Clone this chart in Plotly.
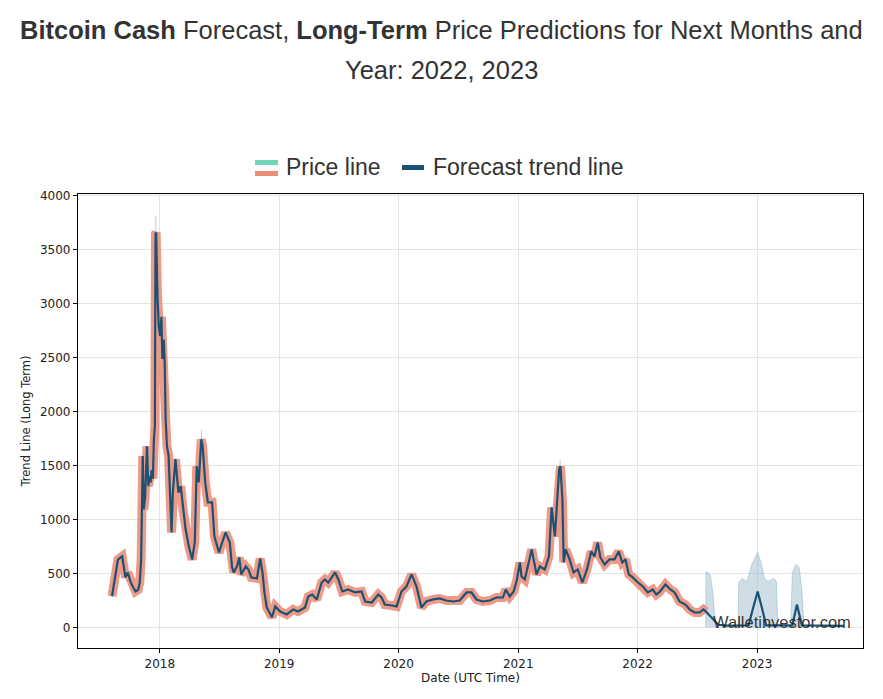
import plotly.graph_objects as go

# ---------- DATA ----------
price_dates = [
    "2017-08-08", "2017-08-18", "2017-08-26", "2017-09-08", "2017-09-14", "2017-09-18",
    "2017-09-25", "2017-10-04", "2017-10-12", "2017-10-19", "2017-10-27", "2017-11-01",
    "2017-11-05", "2017-11-10", "2017-11-13", "2017-11-17", "2017-11-23", "2017-11-27",
    "2017-11-30", "2017-12-04", "2017-12-07", "2017-12-11", "2017-12-14", "2017-12-17",
    "2017-12-19", "2017-12-21", "2017-12-25", "2017-12-29", "2018-01-02", "2018-01-06",
    "2018-01-09", "2018-01-13", "2018-01-16", "2018-01-19", "2018-01-23", "2018-01-28",
    "2018-02-06", "2018-02-10", "2018-02-18", "2018-02-27", "2018-03-06", "2018-03-13",
    "2018-03-21", "2018-03-31", "2018-04-10", "2018-04-18", "2018-04-24", "2018-04-30",
    "2018-05-08", "2018-05-12", "2018-05-20", "2018-05-28", "2018-06-10", "2018-06-17",
    "2018-07-01", "2018-07-11", "2018-07-21", "2018-08-03", "2018-08-10", "2018-08-15",
    "2018-08-25", "2018-09-01", "2018-09-07", "2018-09-21", "2018-09-29", "2018-10-08",
    "2018-10-25", "2018-11-04", "2018-11-11", "2018-11-17", "2018-11-24", "2018-12-10",
    "2018-12-20", "2019-01-04", "2019-01-24", "2019-02-13", "2019-02-28", "2019-03-21",
    "2019-03-31", "2019-04-12", "2019-04-26", "2019-05-11", "2019-05-21", "2019-05-31",
    "2019-06-21", "2019-07-01", "2019-07-13", "2019-07-31", "2019-08-21", "2019-09-10",
    "2019-09-21", "2019-10-11", "2019-10-31", "2019-11-10", "2019-11-20", "2019-12-11",
    "2019-12-26", "2020-01-10", "2020-01-25", "2020-02-10", "2020-02-25", "2020-03-11",
    "2020-03-26", "2020-04-16", "2020-05-06", "2020-05-26", "2020-06-16", "2020-07-06",
    "2020-07-27", "2020-08-11", "2020-08-26", "2020-09-15", "2020-10-06", "2020-10-26",
    "2020-11-15", "2020-11-24", "2020-12-06", "2020-12-18", "2020-12-28", "2021-01-06",
    "2021-01-11", "2021-01-21", "2021-02-11", "2021-02-26", "2021-03-08", "2021-03-23",
    "2021-04-05", "2021-04-13", "2021-04-23", "2021-05-06", "2021-05-10", "2021-05-16",
    "2021-05-20", "2021-05-26", "2021-06-07", "2021-06-19", "2021-07-02", "2021-07-16",
    "2021-07-30", "2021-08-12", "2021-08-22", "2021-09-01", "2021-09-09", "2021-09-22",
    "2021-10-07", "2021-10-22", "2021-11-04", "2021-11-15", "2021-11-25", "2021-12-05",
    "2021-12-17", "2022-01-02", "2022-01-17", "2022-02-01", "2022-02-16", "2022-02-27",
    "2022-03-08", "2022-03-27", "2022-04-11", "2022-04-24", "2022-05-09", "2022-05-27",
    "2022-06-09", "2022-06-24", "2022-07-09", "2022-07-21", "2022-07-29",
]
price_values = [
    290, 470, 630, 660, 520, 465,
    510, 420, 370, 335, 350, 420,
    630, 1590, 1095, 1200, 1680, 1310,
    1400, 1345, 1460, 1380, 1745, 1865,
    3650, 3660, 3070, 2790, 2700, 2880,
    2490, 2670, 2460, 1930, 1680, 1590,
    880, 1250, 1560, 1250, 1310, 1095,
    910, 750, 630, 790, 1495, 1345,
    1745, 1680, 1345, 1160, 1160, 845,
    695, 790, 880, 790, 560, 510,
    566, 649, 492, 566, 538, 464,
    455, 640, 510, 325, 186, 95,
    195, 148, 121, 167, 148, 186,
    288, 306, 260, 417, 445, 417,
    510, 445, 334, 352, 325, 334,
    241, 232, 306, 278, 213, 204,
    195, 334, 380, 492, 380, 186,
    241, 260, 269, 250, 241, 250,
    325, 325, 260, 241, 250, 278,
    278, 352, 288, 334, 445, 603,
    473, 445, 724, 492, 566, 538,
    659, 1113, 844, 1466, 1494, 1187,
    603, 724, 631, 510, 538, 417,
    538, 705, 659, 788, 649, 584,
    631, 631, 705, 603, 631, 492,
    464, 417, 380, 325, 352, 306,
    325, 399, 352, 325, 241, 213,
    167, 139, 139, 167, 148,
]

# thin high spikes poking above the price band
spike_dates = ["2017-12-20", "2018-05-09", "2021-05-09"]
spike_lows = [3600, 1700, 1450]
spike_highs = [3810, 1830, 1555]

forecast_dates = [
    "2022-07-29", "2022-08-06", "2022-08-21", "2022-09-05", "2022-10-01", "2022-12-06",
    "2022-12-20", "2023-01-03", "2023-01-16", "2023-01-29", "2023-04-19", "2023-05-03",
    "2023-05-18", "2023-09-24",
]
forecast_values = [148, 120, 74, 25, 18, 20, 180, 334, 180, 20, 20, 213, 20, 15]

band_dates = [
    "2022-07-28", "2022-07-29", "2022-08-11", "2022-08-20", "2022-08-27", "2022-11-04",
    "2022-11-06", "2022-11-16", "2022-12-01", "2022-12-16", "2023-01-03", "2023-01-13",
    "2023-01-23", "2023-02-02", "2023-02-22", "2023-03-01", "2023-03-06", "2023-04-14",
    "2023-04-19", "2023-04-30", "2023-05-10", "2023-05-18", "2023-05-25",
]
band_upper = [
    0, 520, 490, 300, 0, 0,
    417, 455, 427, 584, 696, 603,
    464, 427, 455, 427, 0, 0,
    510, 584, 557, 352, 0,
]

y_ticks = [0, 500, 1000, 1500, 2000, 2500, 3000, 3500, 4000]
x_ticks = ["2018-01-01", "2019-01-01", "2020-01-01", "2021-01-01", "2022-01-01", "2023-01-01"]
x_tick_labels = ["2018", "2019", "2020", "2021", "2022", "2023"]

SALMON = "rgb(236,141,120)"
MINT = "rgb(112,214,184)"
NAVY = "rgb(27,82,116)"

# the page puts the figure 8px in from the top-left corner
OFF = 8
W, H = 883 - OFF, 699 - OFF
L, R, T, B = 78 - OFF, 20, 194 - OFF, 51


def px(x):
    # page pixel -> paper x
    return (x - OFF - L) / (W - L - R)


def py(y):
    # page pixel -> paper y
    return (H - B - (y - OFF)) / (H - T - B)


fig = go.Figure()

# ---------- FORECAST BAND ----------
fig.add_trace(
    go.Scatter(
        x=band_dates,
        y=band_upper,
        mode="lines",
        fill="tozeroy",
        fillcolor="rgba(140,175,195,0.42)",
        line=dict(color="rgba(140,175,195,0.6)", width=0.8),
        hoverinfo="skip",
        showlegend=False,
    )
)

# ---------- HIGH SPIKES ----------
sx, sy = [], []
for d, lo, hi in zip(spike_dates, spike_lows, spike_highs):
    sx += [d, d, None]
    sy += [lo, hi, None]
fig.add_trace(
    go.Scatter(
        x=sx, y=sy, mode="lines",
        line=dict(color="rgba(150,180,200,0.7)", width=1),
        hoverinfo="skip", showlegend=False,
    )
)

# ---------- PRICE LINE ----------
fig.add_trace(
    go.Scatter(
        x=price_dates,
        y=price_values,
        mode="lines",
        line=dict(color=SALMON, width=9),
        opacity=0.88,
        name="Price line",
        showlegend=False,
    )
)

# ---------- TREND LINE ----------
fig.add_trace(
    go.Scatter(
        x=price_dates + forecast_dates[1:],
        y=price_values + forecast_values[1:],
        mode="lines",
        line=dict(color=NAVY, width=2.2),
        name="Forecast trend line",
        showlegend=False,
    )
)

axis_font = dict(family="DejaVu Sans", size=12, color="#222")

fig.update_xaxes(
    type="date",
    range=["2017-04-26", "2023-11-21"],
    tickvals=x_ticks,
    ticktext=x_tick_labels,
    ticks="outside",
    ticklen=4,
    tickcolor="#000",
    tickfont=axis_font,
    showgrid=True,
    gridcolor="#e4e4e4",
    gridwidth=1,
    zeroline=False,
    showline=True,
    linecolor="#000",
    linewidth=1.3,
    mirror=True,
    title=dict(text="Date (UTC Time)", font=axis_font, standoff=4),
)

fig.update_yaxes(
    range=[-190, 4018],
    tickvals=y_ticks,
    ticks="outside",
    ticklen=4,
    tickcolor="#000",
    tickfont=axis_font,
    showgrid=True,
    gridcolor="#e4e4e4",
    gridwidth=1,
    zeroline=False,
    showline=True,
    linecolor="#000",
    linewidth=1.3,
    mirror=True,
    title=dict(text="Trend Line (Long Term)", font=dict(family="DejaVu Sans", size=11.5, color="#222"), standoff=6),
)

# ---------- TITLE ----------
title_font = dict(family="Liberation Sans", size=25.5, color="#333")
fig.add_annotation(
    text="<b>Bitcoin Cash</b> Forecast, <b>Long-Term</b> Price Predictions for Next Months and",
    x=px(441), y=py(30), xref="paper", yref="paper", showarrow=False, font=title_font,
    xanchor="center", yanchor="middle",
)
fig.add_annotation(
    text="Year: 2022, 2023",
    x=px(441), y=py(70), xref="paper", yref="paper", showarrow=False, font=title_font,
    xanchor="center", yanchor="middle",
)

# ---------- LEGEND (drawn by hand: price line has two stripes) ----------
legend_font = dict(family="Liberation Sans", size=23, color="#333")
fig.add_shape(type="rect", xref="paper", yref="paper",
              x0=px(255), x1=px(278), y0=py(165), y1=py(160),
              fillcolor=MINT, line=dict(width=0))
fig.add_shape(type="rect", xref="paper", yref="paper",
              x0=px(255), x1=px(278), y0=py(176), y1=py(171),
              fillcolor=SALMON, line=dict(width=0))
fig.add_annotation(text="Price line", x=px(284), y=py(167), xref="paper", yref="paper",
                   showarrow=False, font=legend_font, xanchor="left", yanchor="middle")
fig.add_shape(type="rect", xref="paper", yref="paper",
              x0=px(402), x1=px(424), y0=py(170), y1=py(165),
              fillcolor=NAVY, line=dict(width=0))
fig.add_annotation(text="Forecast trend line", x=px(431), y=py(167), xref="paper", yref="paper",
                   showarrow=False, font=legend_font, xanchor="left", yanchor="middle")

# ---------- WATERMARK ----------
fig.add_annotation(
    text="Walletinvestor.com", x=px(711), y=py(622), xref="paper", yref="paper",
    showarrow=False, xanchor="left", yanchor="middle",
    font=dict(family="Liberation Sans", size=16.5, color="rgba(30,30,30,0.9)"),
)

fig.update_layout(
    width=W,
    height=H,
    margin=dict(l=L, r=R, t=T, b=B),
    paper_bgcolor="white",
    plot_bgcolor="white",
    showlegend=False,
)

fig.write_html("out.html")
